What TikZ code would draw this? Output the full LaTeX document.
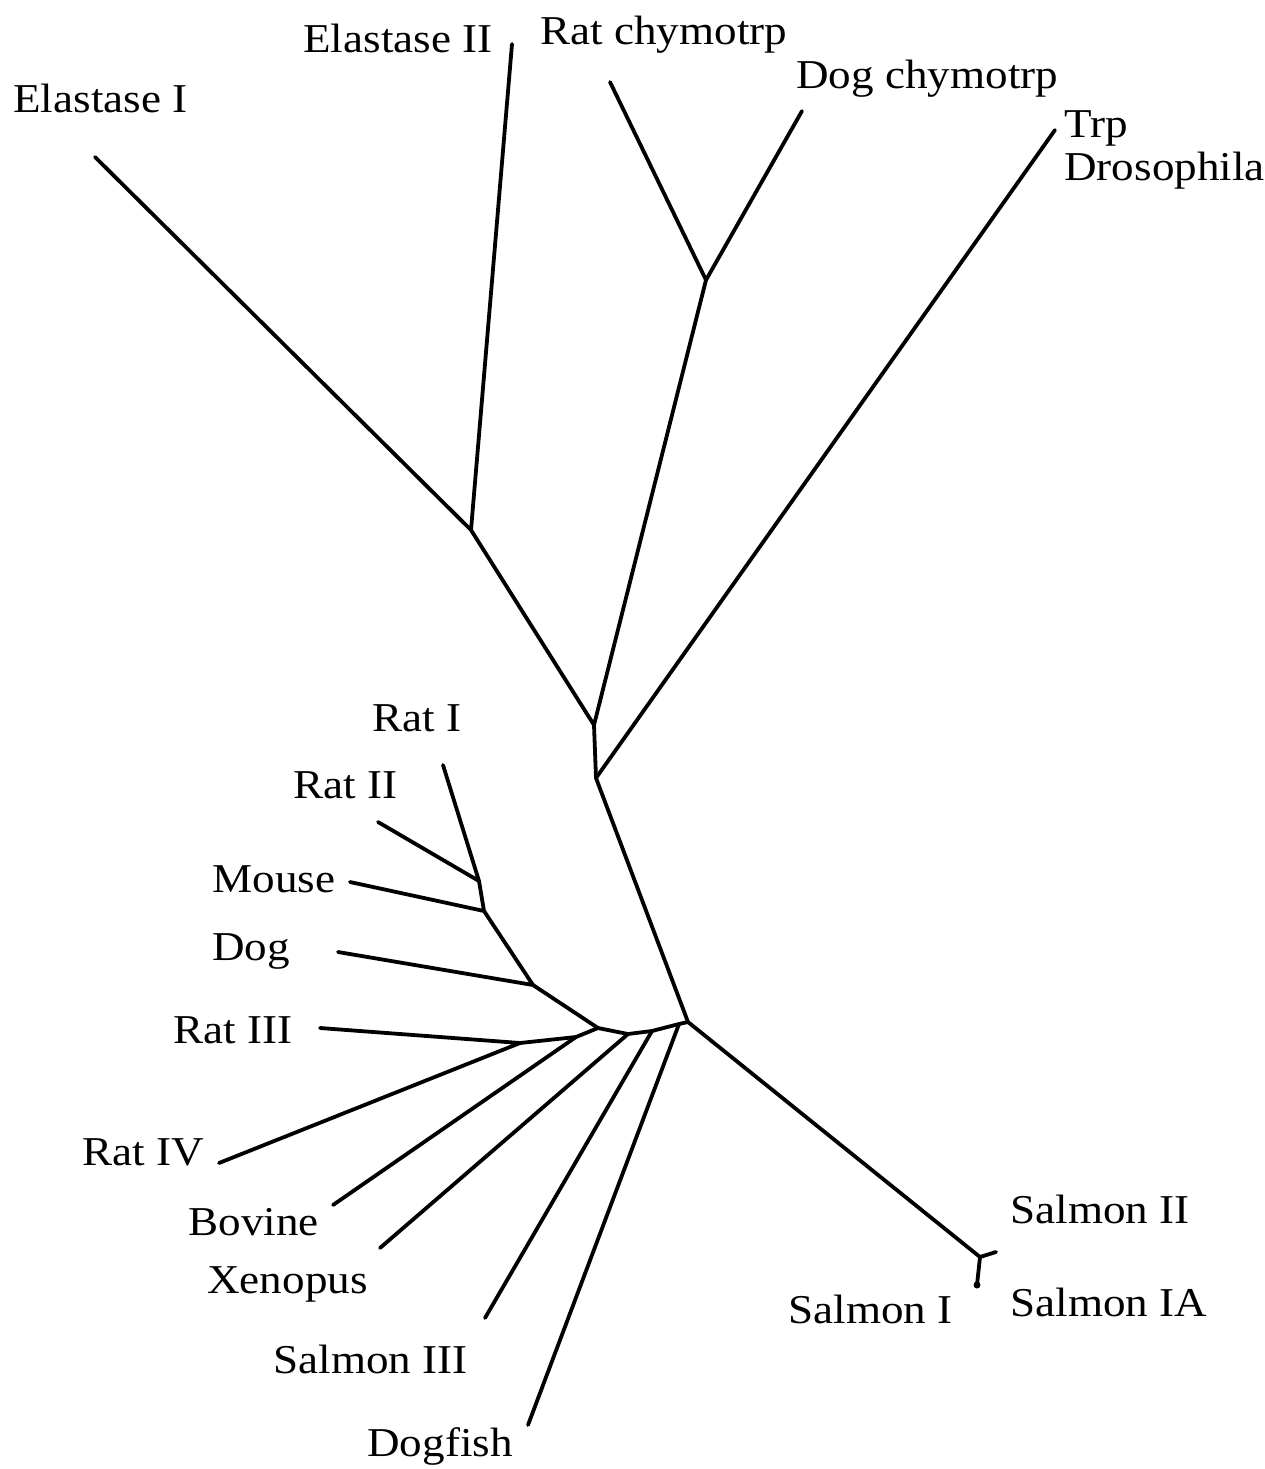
\documentclass[tikz,border=0pt]{standalone}
\usepackage{fontspec}
\setmainfont{Liberation Serif}[FakeStretch=1.1]
\begin{document}
\begin{tikzpicture}[x=0.5pt,y=-0.5pt,
  branch/.style={line width=1.9pt,line cap=round,line join=round},
  lab/.style={anchor=base west,inner sep=0pt,font=\fontsize{20.5}{24}\selectfont}]
\useasboundingbox (0,0) rectangle (1265,1469);
% internal nodes
\coordinate (A) at (471,530);
\coordinate (B) at (594,725);
\coordinate (C) at (706,280);
\coordinate (D) at (596,778);
\coordinate (E) at (688,1022);
\coordinate (S) at (980,1257);
\coordinate (N1) at (479,881);
\coordinate (N2) at (484,911);
\coordinate (N3) at (533,985);
\coordinate (N4) at (598,1028);
\coordinate (N34) at (520,1043);
\coordinate (NB) at (576,1037);
\coordinate (N5) at (628,1034);
\coordinate (N6) at (652,1031);
\coordinate (N7) at (679,1024);
% leaf ends
\coordinate (lElaI) at (95,157);
\coordinate (lElaII) at (512,44);
\coordinate (lRchy) at (610,82);
\coordinate (lDchy) at (802,111);
\coordinate (lTrp) at (1055,130);
\coordinate (lRatI) at (443,765);
\coordinate (lRatII) at (378,822);
\coordinate (lMouse) at (350,882);
\coordinate (lDog) at (338,952);
\coordinate (lRatIII) at (320,1028);
\coordinate (lRatIV) at (219,1163);
\coordinate (lBov) at (333,1205);
\coordinate (lXen) at (380,1248);
\coordinate (lSalIII) at (485,1318);
\coordinate (lDogf) at (528,1425);
\coordinate (lSalII) at (996,1252);
\coordinate (lSalI) at (977,1285);
% branches
\draw[branch] (lElaI) -- (A) -- (B) -- (D) -- (E) -- (S);
\draw[branch] (lElaII) -- (A);
\draw[branch] (lRchy) -- (C) -- (lDchy);
\draw[branch] (C) -- (B);
\draw[branch] (lTrp) -- (D);
\draw[branch] (lRatI) -- (N1) -- (lRatII);
\draw[branch] (N1) -- (N2) -- (lMouse);
\draw[branch] (N2) -- (N3) -- (lDog);
\draw[branch] (N3) -- (N4);
\draw[branch] (lRatIII) -- (N34) -- (lRatIV);
\draw[branch] (N34) -- (NB) -- (N4);
\draw[branch] (NB) -- (lBov);
\draw[branch] (N4) -- (N5) -- (N6) -- (N7) -- (E);
\draw[branch] (N5) -- (lXen);
\draw[branch] (N6) -- (lSalIII);
\draw[branch] (N7) -- (lDogf);
\draw[branch] (S) -- (lSalII);
\draw[branch] (S) -- (lSalI);
\fill (lSalI) circle (3.5);
% labels
\node[lab] (tElaI) at (13,112) {Elastase I};
\node[lab] (tElaII) at (303,52) {Elastase II};
\node[lab] (tRchy) at (540,44) {Rat chymotrp};
\node[lab] (tDchy) at (796,88) {Dog chymotrp};
\node[lab] (tTrp) at (1064,137) {Trp};
\node[lab] (tDros) at (1064,180) {Drosophila};
\node[lab] (tRatI) at (372,731) {Rat I};
\node[lab] (tRatII) at (293,798) {Rat II};
\node[lab] (tMouse) at (212,892) {Mouse};
\node[lab] (tDog) at (212,960) {Dog};
\node[lab] (tRatIII) at (173,1043) {Rat III};
\node[lab] (tRatIV) at (82,1165) {Rat IV};
\node[lab] (tBov) at (188,1235) {Bovine};
\node[lab] (tXen) at (207,1293) {Xenopus};
\node[lab] (tSalIII) at (273,1373) {Salmon III};
\node[lab] (tDogf) at (367,1456) {Dogfish};
\node[lab] (tSalII) at (1010,1223) {Salmon II};
\node[lab] (tSalIA) at (1010,1316) {Salmon IA};
\node[lab] (tSalI) at (788,1323) {Salmon I};
\end{tikzpicture}
\end{document}
